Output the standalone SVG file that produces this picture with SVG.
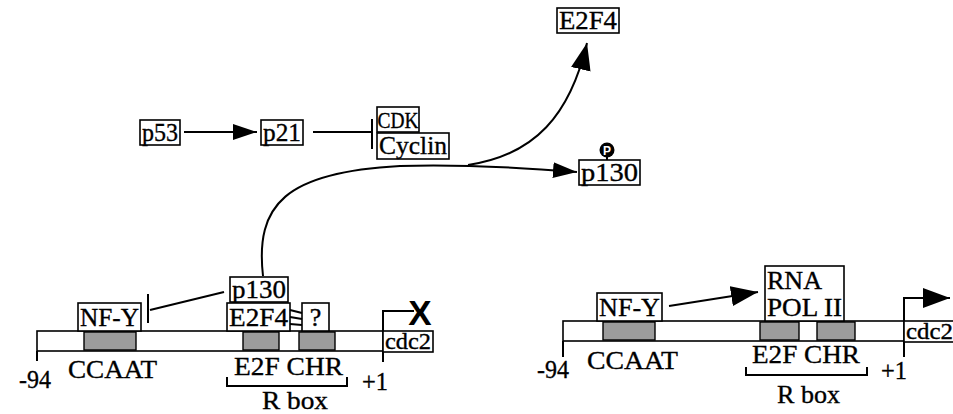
<svg xmlns="http://www.w3.org/2000/svg" width="953" height="414" viewBox="0 0 953 414">
<style>
.bx{fill:#fff;stroke:#000;stroke-width:1.6}
.st{fill:#9c9c9c;stroke:#000;stroke-width:1.4}
.ln{fill:none;stroke:#000;stroke-width:2}
.t{font-family:"Liberation Serif","Times New Roman",serif;font-size:26px;fill:#000;stroke:#000;stroke-width:0.35}
.tc{text-anchor:middle}
</style>
<defs>
<marker id="ah" viewBox="0 0 24 16" refX="24" refY="8" markerWidth="24" markerHeight="16" orient="auto" markerUnits="userSpaceOnUse"><path d="M0,0 L24,8 L0,16 z" fill="#000"/></marker>
<marker id="ahL" viewBox="0 0 27 20" refX="27" refY="10" markerWidth="27" markerHeight="20" orient="auto" markerUnits="userSpaceOnUse"><path d="M0,0 L27,10 L0,20 z" fill="#000"/></marker>
</defs>

<g id="connectors">
<line class="ln" x1="184" y1="132" x2="257" y2="132" marker-end="url(#ah)"/>
<line class="ln" x1="313" y1="132" x2="371" y2="132"/>
<line class="ln" x1="372" y1="119" x2="372" y2="149" stroke-width="2.4"/>
<path class="ln" d="M263,276 C255,205 285,172 400,166 C450,164 500,166 577,172" stroke-width="2.6" marker-end="url(#ah)"/>
<path class="ln" d="M468,165 C535,155 570,115 587,43" stroke-width="2.6" marker-end="url(#ahL)"/>
<line class="ln" x1="150" y1="310" x2="224" y2="292"/>
<line class="ln" x1="148" y1="294" x2="148" y2="323" stroke-width="2.4"/>
<line class="ln" x1="669" y1="306" x2="758" y2="292" stroke-width="2.4" marker-end="url(#ahL)"/>
<path class="ln" d="M383,362 V311 H414"/>
<path class="ln" d="M904,357 V298 H950" marker-end="url(#ahL)"/>
</g>

<g id="p53"><rect class="bx" x="140" y="120" width="40" height="25"/><text class="t tc" x="160" y="141" textLength="36" lengthAdjust="spacingAndGlyphs">p53</text></g>
<g id="p21"><rect class="bx" x="261" y="120" width="42" height="25"/><text class="t tc" x="282" y="141" textLength="38" lengthAdjust="spacingAndGlyphs">p21</text></g>
<g id="cdk"><rect class="bx" x="377" y="107" width="42" height="25"/><text class="t tc" x="398" y="128" style="font-size:24px" textLength="41" lengthAdjust="spacingAndGlyphs">CDK</text></g>
<g id="cyclin"><rect class="bx" x="377" y="133" width="72" height="26" stroke-width="2.2"/><text class="t tc" x="413" y="154" textLength="68" lengthAdjust="spacingAndGlyphs">Cyclin</text></g>
<g id="e2f4-top"><rect class="bx" x="557" y="8" width="62" height="25"/><text class="t tc" x="588" y="29" textLength="58" lengthAdjust="spacingAndGlyphs">E2F4</text></g>
<g id="p130-top"><line class="ln" x1="607" y1="155" x2="607" y2="160"/><circle cx="607" cy="150" r="7.5" fill="#000"/><text x="607" y="155" text-anchor="middle" style="font-family:'Liberation Sans',Arial,sans-serif;font-weight:bold;font-size:12px;fill:#fff">P</text><rect class="bx" x="579" y="160" width="61" height="25"/><text class="t tc" x="609.5" y="181" textLength="57" lengthAdjust="spacingAndGlyphs">p130</text></g>

<g id="left-promoter">
<rect class="bx" x="37" y="331" width="346" height="20"/>
<rect class="st" x="84" y="332" width="52" height="18"/>
<rect class="st" x="243" y="332" width="36" height="18"/>
<rect class="st" x="299" y="332" width="36" height="18"/>
<line class="ln" x1="37" y1="351" x2="37" y2="361"/>
<text class="t" x="19" y="388" textLength="32" lengthAdjust="spacingAndGlyphs">-94</text>
<text class="t" x="68" y="378" textLength="89" lengthAdjust="spacingAndGlyphs">CCAAT</text>
<text class="t" x="234" y="375" textLength="109" lengthAdjust="spacingAndGlyphs">E2F CHR</text>
<path class="ln" d="M227,377 V386 H347 V377"/>
<text class="t" x="262" y="409" textLength="66" lengthAdjust="spacingAndGlyphs">R box</text>
<text class="t" x="362" y="390" textLength="26" lengthAdjust="spacingAndGlyphs">+1</text>
</g>
<g id="left-cdc2"><rect class="bx" x="383" y="331" width="50" height="21"/><text class="t" x="385" y="349" style="font-size:23px" textLength="46" lengthAdjust="spacingAndGlyphs">cdc2</text>
<text x="420" y="325" text-anchor="middle" style="font-family:'Liberation Sans',Arial,sans-serif;font-weight:bold;font-size:35px">X</text></g>
<g id="left-nfy"><rect class="bx" x="78" y="303" width="63" height="28"/><text class="t tc" x="109.5" y="326" textLength="59" lengthAdjust="spacingAndGlyphs">NF-Y</text></g>
<g id="left-p130"><rect class="bx" x="230" y="277" width="58" height="25"/><text class="t tc" x="259" y="298" textLength="54" lengthAdjust="spacingAndGlyphs">p130</text></g>
<g id="left-e2f4"><rect class="bx" x="227" y="303" width="63" height="28"/><text class="t tc" x="258.5" y="326" textLength="59" lengthAdjust="spacingAndGlyphs">E2F4</text></g>
<g id="left-q"><rect class="bx" x="302" y="303" width="27" height="28"/><text class="t tc" x="315.5" y="326">?</text>
<path class="ln" d="M290,310 L302,313 M290,317 L302,319 M290,324 L302,325"/></g>

<g id="right-promoter">
<rect class="bx" x="563" y="321" width="341" height="20"/>
<rect class="st" x="603" y="322" width="52" height="18"/>
<rect class="st" x="760" y="322" width="39" height="18"/>
<rect class="st" x="817" y="322" width="38" height="18"/>
<line class="ln" x1="563" y1="341" x2="563" y2="357"/>
<text class="t" x="537" y="378" textLength="32" lengthAdjust="spacingAndGlyphs">-94</text>
<text class="t" x="587" y="369" textLength="91" lengthAdjust="spacingAndGlyphs">CCAAT</text>
<text class="t" x="752" y="363" textLength="108" lengthAdjust="spacingAndGlyphs">E2F CHR</text>
<path class="ln" d="M746,367 V375 H867 V367"/>
<text class="t" x="777" y="403" textLength="63" lengthAdjust="spacingAndGlyphs">R box</text>
<text class="t" x="881" y="379" textLength="26" lengthAdjust="spacingAndGlyphs">+1</text>
</g>
<g id="right-cdc2"><rect class="bx" x="904" y="321" width="52" height="21"/><text class="t" x="906" y="339" style="font-size:23px" textLength="47" lengthAdjust="spacingAndGlyphs">cdc2</text></g>
<g id="right-nfy"><rect class="bx" x="597" y="293" width="65" height="28"/><text class="t tc" x="629.5" y="316" textLength="61" lengthAdjust="spacingAndGlyphs">NF-Y</text></g>
<g id="rna-pol"><rect class="bx" x="765" y="266" width="79" height="55"/><text class="t" x="767" y="289" style="font-size:25px" textLength="55" lengthAdjust="spacingAndGlyphs">RNA</text><text class="t" x="767" y="316" style="font-size:25px" textLength="75" lengthAdjust="spacingAndGlyphs">POL II</text></g>
</svg>
